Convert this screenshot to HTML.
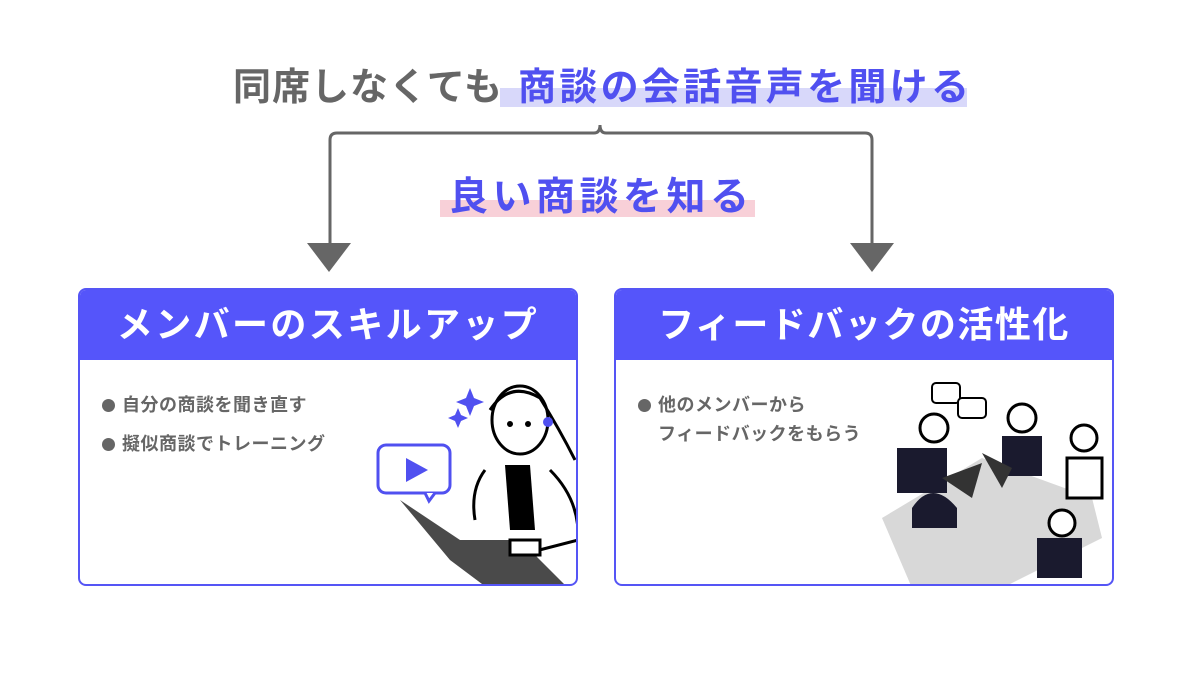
<!DOCTYPE html>
<html><head><meta charset="utf-8"><style>
body{margin:0;width:1200px;height:675px;background:#fff;position:relative;overflow:hidden;font-family:"Liberation Sans","Noto Sans CJK JP",sans-serif;font-weight:bold}
.a{position:absolute}
.box{position:absolute;top:288px;width:496px;height:294px;border:2px solid #5555f5;border-radius:8px;overflow:hidden;background:#fff}
.hd{height:70px;background:#5555fa;color:#fff;font-size:36px;text-align:center;line-height:70px;letter-spacing:2.4px}
.li{position:absolute;left:22px;font-size:18px;color:#666;white-space:nowrap;letter-spacing:0.5px}
.li.b:before{content:"";display:inline-block;width:13px;height:13px;border-radius:50%;background:#666;margin-right:7px;vertical-align:-1px}
</style></head><body>
<div class="a" style="left:500px;top:88px;width:467px;height:19px;background:#d8d8fa"></div>
<div class="a" style="left:233px;top:56px;font-size:38px;color:#666;white-space:nowrap;letter-spacing:1px">同席しなくても<span style="display:inline-block;width:15px"></span><span style="color:#5050f0;letter-spacing:3.3px">商談の会話音声を聞ける</span></div>
<div class="a" style="left:440px;top:200px;width:315px;height:17px;background:#f8d0d8"></div>
<div class="a" style="left:449px;top:166px;font-size:39px;color:#5050f0;white-space:nowrap;letter-spacing:4.5px">良い商談を知る</div>
<svg class="a" style="left:0;top:0" width="1200" height="290">
<path d="M330 246 V140 Q330 133 337 133 H594 Q600 133 600 125 Q600 133 606 133 H865 Q872 133 872 140 V246" fill="none" stroke="#666" stroke-width="3"/>
<polygon points="307,243 351,243 329,272" fill="#666"/>
<polygon points="850,243 894,243 872,272" fill="#666"/>
</svg>
<div class="box" style="left:78px">
<div class="hd">メンバーのスキルアップ</div>
<div class="li b" style="top:101px">自分の商談を聞き直す</div>
<div class="li b" style="top:140px">擬似商談でトレーニング</div>
<svg class="a" style="left:290px;top:80px" width="210" height="220">
<path d="M100 18 l4 10 10 4 -10 4 -4 10 -4 -10 -10 -4 10 -4z M88 38 l3 7 7 3 -7 3 -3 7 -3 -7 -7 -3 7 -3z" fill="#5050f0"/>
<rect x="8" y="75" width="72" height="48" rx="8" fill="none" stroke="#5050f0" stroke-width="3"/>
<path d="M55 123 l4 8 6 -8" fill="#fff" stroke="#5050f0" stroke-width="3"/>
<polygon points="36,88 36,112 58,100" fill="#5050f0"/>
<ellipse cx="150" cy="50" rx="28" ry="34" fill="#fff" stroke="#000" stroke-width="3"/>
<path d="M120 40 Q140 10 170 28 Q190 60 205 90" fill="none" stroke="#000" stroke-width="3"/>
<circle cx="140" cy="54" r="3"/><circle cx="158" cy="54" r="3"/>
<circle cx="178" cy="52" r="5" fill="#5050f0"/>
<path d="M135 95 L160 95 L165 160 L140 160z" fill="#000"/>
<path d="M115 100 Q100 120 105 150 M180 100 Q210 130 208 170 L150 185" fill="none" stroke="#000" stroke-width="3"/>
<polygon points="30,130 90,170 150,170 200,220 120,220 80,190" fill="#4a4a4a"/>
<path d="M140 170 h30 v15 h-30z" fill="#fff" stroke="#000" stroke-width="3"/>
</svg>
</div>
<div class="box" style="left:614px">
<div class="hd" style="letter-spacing:1.5px">フィードバックの活性化</div>
<div class="li b" style="top:101px">他のメンバーから</div>
<div class="li" style="top:130px;left:42px">フィードバックをもらう</div>
<svg class="a" style="left:236px;top:88px" width="260" height="210">
<polygon points="30,140 130,80 240,120 250,160 150,210 60,210" fill="#d8d8d8"/>
<path d="M60 130 q20 -30 45 0 v20 h-45z" fill="#1a1a2e"/>
<circle cx="82" cy="50" r="14" fill="#fff" stroke="#000" stroke-width="3"/>
<rect x="45" y="70" width="50" height="45" fill="#1a1a2e"/>
<circle cx="170" cy="40" r="14" fill="#fff" stroke="#000" stroke-width="3"/>
<rect x="150" y="58" width="40" height="40" fill="#1a1a2e"/>
<circle cx="232" cy="60" r="13" fill="#fff" stroke="#000" stroke-width="3"/>
<path d="M215 80 h35 v40 h-35z" fill="#fff" stroke="#000" stroke-width="3"/>
<circle cx="210" cy="145" r="13" fill="#fff" stroke="#000" stroke-width="3"/>
<rect x="185" y="160" width="45" height="40" fill="#1a1a2e"/>
<rect x="80" y="5" width="28" height="20" rx="4" fill="#fff" stroke="#000" stroke-width="2"/>
<rect x="106" y="20" width="28" height="20" rx="4" fill="#fff" stroke="#000" stroke-width="2"/>
<polygon points="90,100 130,85 120,120" fill="#333"/>
<polygon points="130,75 160,90 150,110" fill="#333"/>
</svg>
</div>
</body></html>
